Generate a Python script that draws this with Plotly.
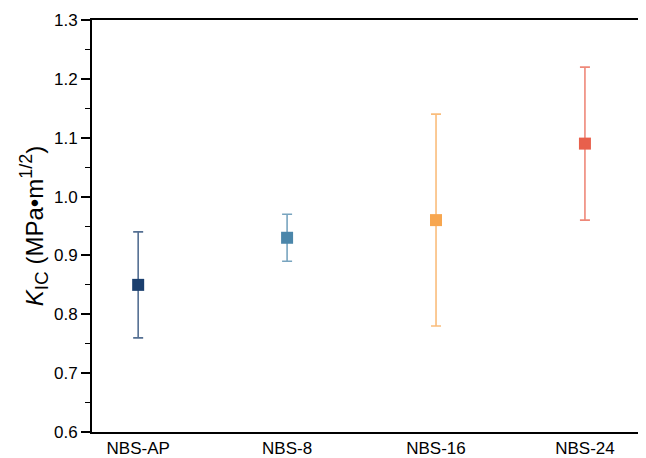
import plotly.graph_objects as go

categories = ["NBS-AP", "NBS-8", "NBS-16", "NBS-24"]
kic_mean = [0.85, 0.93, 0.96, 1.09]
kic_err = [0.09, 0.04, 0.18, 0.13]
marker_colors = ["#1b3f6e", "#4b86aa", "#f7a64f", "#e8604c"]
bar_colors = ["rgba(27,63,110,0.75)", "rgba(75,134,170,0.75)",
              "rgba(247,166,79,0.75)", "rgba(232,96,76,0.75)"]

fig = go.Figure()
for i, cat in enumerate(categories):
    fig.add_trace(go.Scatter(
        x=[i], y=[kic_mean[i]], mode="markers",
        marker=dict(symbol="square", size=12, color=marker_colors[i]),
        error_y=dict(type="data", array=[kic_err[i]], visible=True,
                     color=bar_colors[i], thickness=1.6, width=5),
        showlegend=False, name=cat,
    ))

# page body has an 8px margin, so the figure is 8px smaller and offset
fig.update_layout(
    width=638, height=450,
    margin=dict(l=84, r=0, t=12, b=26),
    paper_bgcolor="white", plot_bgcolor="white",
    font=dict(family="Liberation Sans, Arial, sans-serif", color="black"),
    xaxis=dict(
        range=[-0.31, 3.41], tickmode="array",
        tickvals=list(range(len(categories))), ticktext=categories,
        showline=True, linecolor="black", linewidth=2, mirror=True,
        ticks="", showgrid=False, zeroline=False,
        tickfont=dict(size=17),
    ),
    yaxis=dict(
        range=[0.6, 1.3], dtick=0.1, tickformat=".1f",
        showline=True, linecolor="black", linewidth=2,
        ticks="outside", ticklen=9, tickwidth=1.5, tickcolor="black",
        minor=dict(ticks="outside", ticklen=5, tickwidth=1.2, dtick=0.05, tickcolor="black"),
        showgrid=False, zeroline=False,
        tickfont=dict(size=17),
        title=dict(text="<i>K</i><sub><span style='font-size:19px'>IC</span></sub> (MPa•m<sup><span style='font-size:18px'>1/2</span></sup>)",
                   font=dict(size=24), standoff=4),
    ),
)

fig.write_html("out.html")
